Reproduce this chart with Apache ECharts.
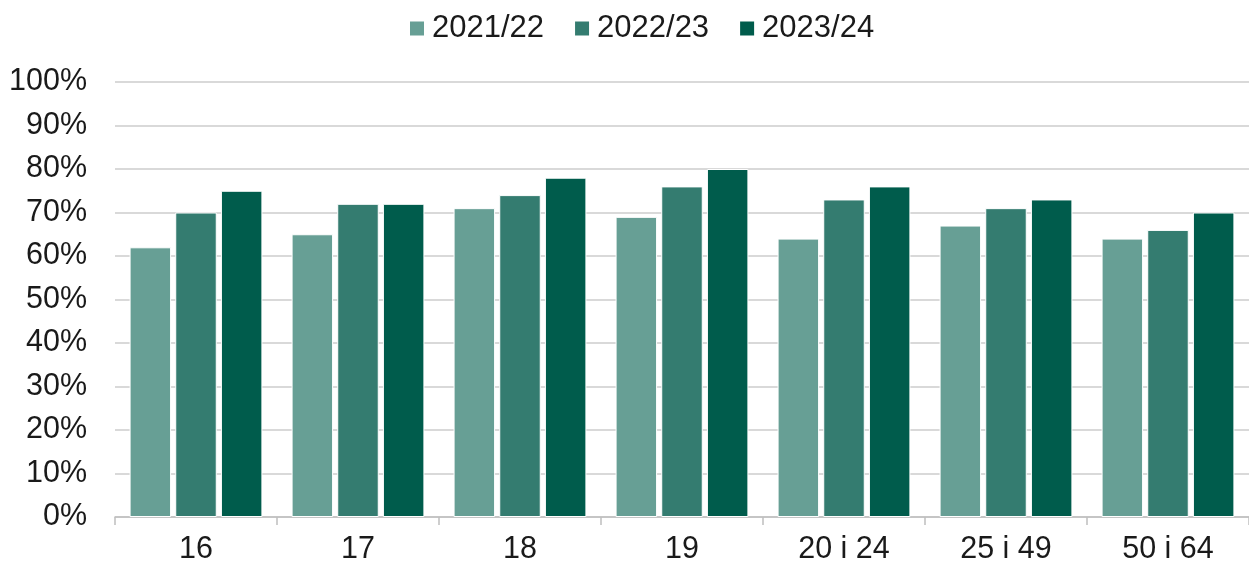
<!DOCTYPE html>
<html>
<head>
<meta charset="utf-8">
<script src="https://cdn.jsdelivr.net/npm/echarts@6/dist/echarts.min.js"></script>
<style>
html,body{margin:0;padding:0;background:#fff;}
#chart{width:1249px;height:567px;}
</style>
</head>
<body>
<div id="chart"></div>
<script>
const categories = ['16', '17', '18', '19', '20 i 24', '25 i 49', '50 i 64'];
const seriesNames = ['2021/22', '2022/23', '2023/24'];
const values2021 = [62, 65, 71, 69, 64, 67, 64];
const values2022 = [70, 72, 74, 76, 73, 71, 66];
const values2023 = [75, 72, 78, 80, 76, 73, 70];
const colors = ['#679f95', '#347c70', '#005c4c'];

const FONT = 'Liberation Sans, Arial, sans-serif';
const chart = echarts.init(document.getElementById('chart'), null, {renderer: 'canvas'});
const dataSets = [values2021, values2022, values2023];
chart.setOption({
  animation: false,
  textStyle: {fontFamily: FONT},
  legend: {
    top: 8,
    left: 403,
    itemWidth: 16,
    itemHeight: 16,
    itemGap: 29,
    icon: 'rect',
    textStyle: {fontSize: 31, color: '#1a1a1a', fontFamily: FONT, padding: [0, 0, 0, 2]},
    data: seriesNames
  },
  grid: {left: 115, right: 0, top: 82, bottom: 50, containLabel: false},
  xAxis: {
    type: 'category',
    data: categories,
    boundaryGap: true,
    axisLine: {lineStyle: {color: '#bfbfbf', width: 1.5}},
    axisTick: {show: true, length: 8, lineStyle: {color: '#bfbfbf', width: 1.5}},
    axisLabel: {fontSize: 30.5, color: '#1a1a1a', margin: 17, fontFamily: FONT}
  },
  yAxis: {
    type: 'value',
    min: 0,
    max: 100,
    interval: 10,
    axisLine: {show: false},
    axisTick: {show: false},
    splitLine: {lineStyle: {color: '#d9d9d9', width: 2}},
    axisLabel: {fontSize: 30.5, color: '#1a1a1a', margin: 28, formatter: '{value}%', fontFamily: FONT}
  },
  series: seriesNames.map((name, i) => ({
    name: name,
    type: 'bar',
    data: dataSets[i],
    barGap: '10%',
    barCategoryGap: '18%',
    itemStyle: {color: colors[i], borderColor: '#ffffff', borderWidth: 1}
  }))
});
</script>
</body>
</html>
